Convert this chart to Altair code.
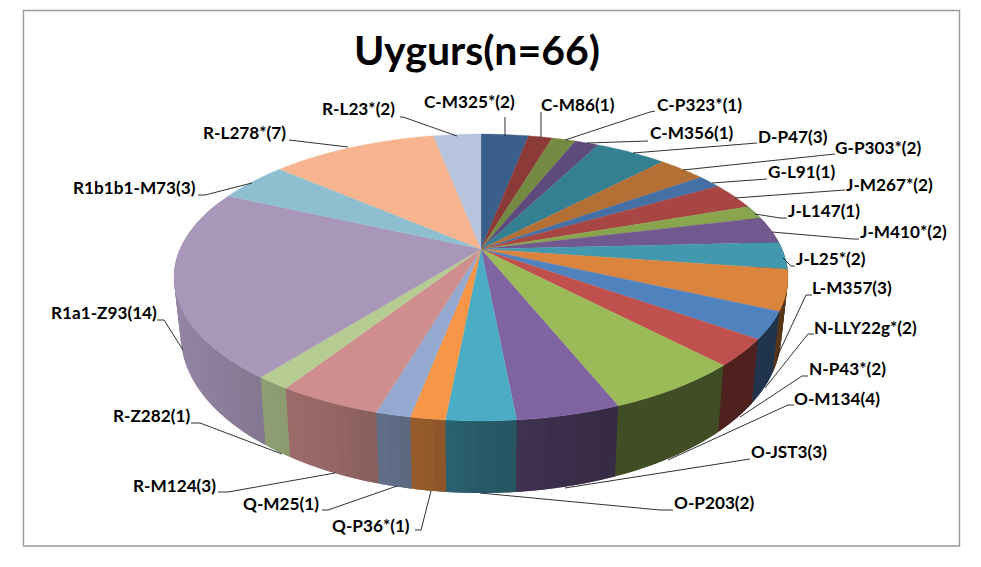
import altair as alt
import numpy as np
import pandas as pd

alt.data_transformers.disable_max_rows()

# ---- chart values ----
title_text = "Uygurs(n=66)"
haplogroups = ["C-M325*", "C-M86", "C-P323*", "C-M356", "D-P47", "G-P303*", "G-L91", "J-M267*", "J-L147",
               "J-M410*", "J-L25*", "L-M357", "N-LLY22g*", "N-P43*", "O-M134", "O-JST3", "O-P203", "Q-P36*",
               "Q-M25", "R-M124", "R-Z282", "R1a1-Z93", "R1b1b1-M73", "R-L278*", "R-L23*"]
counts = [2, 1, 1, 1, 3, 2, 1, 2, 1, 2, 2, 3, 2, 2, 4, 3, 2, 1, 1, 3, 1, 14, 3, 7, 2]
colors = ["#3A5F8B", "#8C3A38", "#748A43", "#5E4A7C", "#357F93", "#B46F34", "#4470A5", "#A84644", "#89A54E",
          "#71588F", "#4198AF", "#DB843D", "#5082BE", "#C0504D", "#9BBB59", "#8064A2", "#4BACC6", "#F79646",
          "#95A9D0", "#CE8E8D", "#B7CC93", "#A897B9", "#8EBFD1", "#F7B48E", "#B7C4DD"]

# ---- label layout (left edge, vertical centre) and leader paths ----
label_x = [424, 541, 657, 650, 758, 835, 768, 846, 788, 860, 796, 812, 814, 809, 794, 751, 674, 332, 243, 133, 113,
           51, 73, 203, 322]
label_y = [103, 106, 106, 134, 138, 149, 173, 186, 212, 233, 260, 289, 329, 370, 400, 453, 504, 527, 505, 487, 417,
           314, 189, 134, 110]
leaders = [
    [(505, 117), (505, 136)], [(541, 112), (541, 137)], [(565, 140), (650, 112), (655, 111)],
    [(587, 143), (648, 141)], [(633, 153), (757, 143)], [(683, 170), (835, 154)], [(712, 183), (767, 179)],
    [(735, 198), (845, 190)], [(755, 214), (780, 218), (787, 218)], [(772, 232), (853, 239), (859, 239)],
    [(783, 258), (791, 266), (795, 266)], [(777, 357), (806, 295), (812, 295)], [(765, 388), (808, 334), (814, 334)],
    [(740, 417), (802, 376), (808, 376)], [(668, 460), (788, 405), (794, 405)], [(565, 488), (750, 459)],
    [(480, 493), (660, 510), (673, 510)], [(431, 491), (421, 530), (415, 530)], [(397, 486), (328, 510), (322, 510)],
    [(335, 473), (228, 492), (218, 492)], [(282, 454), (200, 423), (191, 423)], [(183, 350), (164, 320), (157, 320)],
    [(252, 183), (205, 195), (198, 195)], [(348, 147), (289, 140)], [(457, 136), (403, 117), (400, 117)],
]

# ---- perspective of the pie (from the picture) ----
CX, CY, A, B, P = 481.0, 249.0, 300.9, 137.8, 0.1986
RIM_S, RIM_K, RIM_C = 0.978, 1.1, 30.0
SHADE_X = [174, 268, 350, 412, 481, 612, 800]
SHADE_F = [0.88, 0.78, 0.70, 0.62, 0.53, 0.42, 0.40]
STEP = np.radians(1.5)


def top(t, r=1.0):
    u, v = r * np.sin(t), r * np.cos(t)
    d = 1 + P * v
    return CX + A * u / d, CY - B * v / d


def bottom(t):
    x, y = top(t)
    return CX + (x - CX) * RIM_S, RIM_K * y + RIM_C


def shade(hexcol, f):
    rgb = [int(hexcol[i:i + 2], 16) for i in (1, 3, 5)]
    return "#%02X%02X%02X" % tuple(int(round(c * f)) for c in rgb)


edges = np.radians(np.cumsum([0] + counts) * 360.0 / sum(counts))
top_rows, wall_rows, leader_rows = [], [], []
wid = 0
for i, c in enumerate(colors):
    a0, a1 = edges[i], edges[i + 1]
    n = max(2, int(np.degrees(a1 - a0)))
    pts = [(CX, CY)] + [top(t) for t in np.linspace(a0, a1, n + 1)]
    for k, (x, y) in enumerate(pts):
        top_rows.append(dict(id=i, k=k, x=x, y=y, c=c))
    # outer wall, in overlapping narrow bands so that the shading runs along the rim
    w0, w1 = max(a0, np.radians(70)), min(a1, np.radians(290))
    if w1 > w0:
        m = max(1, int((w1 - w0) / STEP))
        ts = np.linspace(w0, w1, m + 1)
        for t0, t1 in zip(ts[:-1], ts[1:]):
            quad = [top(t0), top(t1 + STEP), bottom(t1 + STEP), bottom(t0)]
            col = shade(c, np.interp(quad[0][0], SHADE_X, SHADE_F))
            for k, (x, y) in enumerate(quad):
                wall_rows.append(dict(id=wid, k=k, x=x, y=y, c=col))
            wid += 1
    for k, (x, y) in enumerate(leaders[i]):
        leader_rows.append(dict(id=i, k=k, x=x, y=y))

labels = pd.DataFrame(dict(
    text=[f"{h}({n})" for h, n in zip(haplogroups, counts)], x=label_x, y=label_y))

X = alt.X("x:Q", axis=None, scale=alt.Scale(domain=[8, 968], range=[0, 960]))
Y = alt.Y("y:Q", axis=None, scale=alt.Scale(domain=[8, 553], range=[0, 545]))


def poly(rows, sw):
    return alt.Chart(pd.DataFrame(rows)).mark_line(
        filled=True, strokeWidth=sw, interpolate="linear-closed").encode(
        x=X, y=Y,
        detail="id:Q",
        order="k:Q",
        fill=alt.Fill("c:N", scale=None),
        stroke=alt.Stroke("c:N", scale=None))


frame = alt.Chart(pd.DataFrame(dict(x=[23.5], x2=[959.5], y=[10.5], y2=[546]))).mark_rect(
    fillOpacity=0, stroke="#9A9A9A", strokeWidth=1.4).encode(x=X, x2="x2:Q", y=Y, y2="y2:Q")
leader_lines = alt.Chart(pd.DataFrame(leader_rows)).mark_line(color="#1A1A1A", strokeWidth=0.9).encode(
    x=X, y=Y, detail="id:N", order="k:Q")
text = alt.Chart(labels).mark_text(
    font="Lato", fontWeight="bold", fontSize=17.2, align="left", baseline="middle", color="#000000"
).encode(x=X, y=Y, text="text:N")
title = alt.Chart(pd.DataFrame(dict(x=[477], y=[53], t=[title_text]))).mark_text(
    font="Lato", fontWeight="bold", fontSize=41, align="center", baseline="middle", color="#000000"
).encode(x=X, y=Y, text="t:N")

chart = alt.layer(frame, poly(wall_rows, 0), poly(top_rows, 0.3), leader_lines, text, title).properties(
    width=960, height=545, padding=0, background="#FFFFFF", autosize=alt.AutoSizeParams(type="none")
).configure_view(stroke=None)

chart.save("out.html", embed_options={"renderer": "svg", "actions": False})
